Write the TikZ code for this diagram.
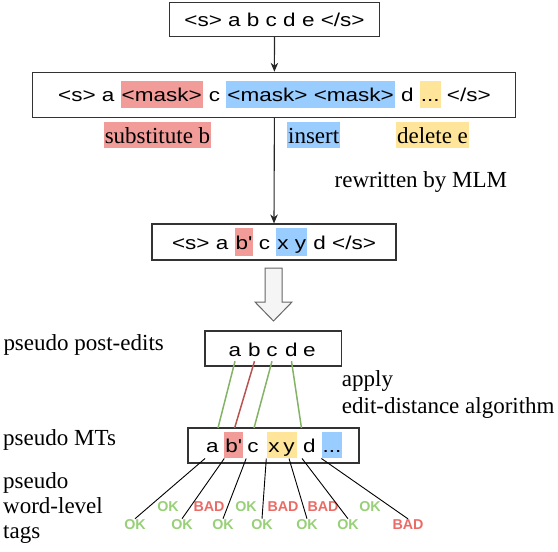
\documentclass[tikz,border=0pt]{standalone}
\usepackage{fontspec}
\setmainfont{Liberation Serif}
\newfontfamily\boxfont{Liberation Sans}[FakeStretch=1.21]
\newfontfamily\tagfont{Liberation Sans}
\usetikzlibrary{
    arrows.meta     % For arrow tip styles like Stealth
}

\definecolor{hlred}{HTML}{F19C99}
\definecolor{hlblue}{HTML}{99CCFF}
\definecolor{hlyellow}{HTML}{FFE599}
\definecolor{okgreen}{HTML}{97D077}
\definecolor{badred}{HTML}{EA6B66}
\definecolor{algngreen}{HTML}{82B366}
\definecolor{algnred}{HTML}{B85450}

% highlighted piece of a token sequence
\newcommand{\hlbox}[2]{{\setlength{\fboxsep}{1pt}\colorbox{#1}{\rule[-5.6pt]{0pt}{25.3pt}#2}}}

\begin{document}
\begin{tikzpicture}[
    x=1pt, y=-1pt,
    seqbox/.style={rectangle, draw=black!80, line width=1.1pt, inner sep=0pt, font=\boxfont\fontsize{18.6}{22}\selectfont},
    tok/.style={font=\boxfont\fontsize{18.6}{22}\selectfont, inner xsep=1pt, inner ysep=0pt, text height=13.6pt, text depth=5pt, anchor=base},
    mtok/.style={tok, text height=20.5pt, text depth=5.8pt},
    oplabel/.style={font=\fontsize{23}{26}\selectfont, inner xsep=1pt, inner ysep=0pt, text height=20.7pt, text depth=4.7pt, anchor=base},
    note/.style={font=\fontsize{23}{25}\selectfont, inner sep=0pt, align=left},
    oktag/.style={font=\tagfont\bfseries\fontsize{14.3}{16}\selectfont, text=okgreen, inner sep=1pt},
    badtag/.style={oktag, text=badred},
    arrow/.style={-{Stealth[length=9pt, width=7.5pt]}, line width=1.1pt, black!85},
    alnok/.style={algngreen, line width=1.5pt, shorten >=4pt},
    alnbad/.style={alnok, algnred},
    tagline/.style={black, line width=0.9pt},
    hollow/.style={draw=black!60, fill=black!4, line width=1pt}
]
    \useasboundingbox (0,0) rectangle (558,552);

    % Original sentence and masked sentence
    \node[seqbox, minimum width=210pt, minimum height=34pt] (src) at (274.5,19.5) {<s> a b c d e </s>};
    \node[seqbox, minimum width=483pt, minimum height=45pt] (masked) at (274.4,94.8)
        {<s> a \hlbox{hlred}{<mask>} c \hlbox{hlblue}{<mask> <mask>} d \hlbox{hlyellow}{...} </s>};
    \draw[arrow] (src.south) -- (masked.north);

    % Edit operations
    \node[oplabel, fill=hlred] (opsub) at (157.5,143) {substitute b};
    \node[oplabel, fill=hlblue] (opins) at (313.7,143) {insert};
    \node[oplabel, fill=hlyellow] (opdel) at (432.5,143) {delete e};

    % Rewritten sentence
    \node[seqbox, minimum width=244pt, minimum height=36pt] (rewritten) at (274,242)
        {<s> a \hlbox{hlred}{b\textquotesingle} c \hlbox{hlblue}{x y} d </s>};
    \draw[arrow] (masked.south) -- (rewritten.north);
    \node[note, anchor=base west] (mlm) at (334.5,187.5) {rewritten by MLM};

    % Hollow arrow
    \draw[hollow] (265,268) -- (282,268) -- (282,302) -- (292,302) -- (273.5,321) -- (255,302) -- (265,302) -- cycle;

    % Pseudo post-edits
    \node[seqbox, minimum width=136.6pt, minimum height=35pt] (pebox) at (273.3,348.5) {};
    \node[tok] (a4) at (235,356) {a};
    \node[tok] (b4) at (254.5,356) {b};
    \node[tok] (c4) at (272,356) {c};
    \node[tok] (d4) at (291.5,356) {d};
    \node[tok] (e4) at (309.5,356) {e};
    \node[note, anchor=base west] (lblpe) at (3.3,350.7) {pseudo post-edits};

    % Pseudo MTs
    \node[seqbox, minimum width=171pt, minimum height=35pt] (mtbox) at (273.5,445.5) {};
    \node[mtok] (a5) at (212.5,452.5) {a};
    \node[mtok, fill=hlred] (b5) at (233.5,452.5) {b\textquotesingle};
    \node[mtok] (c5) at (253,452.5) {c};
    \node[mtok, fill=hlyellow, minimum width=15pt] (x5) at (274,452.5) {x};
    \node[mtok, fill=hlyellow, minimum width=15pt] (y5) at (289,452.5) {y};
    \node[mtok] (d5) at (309.5,452.5) {d};
    \node[mtok, fill=hlblue] (dots5) at (332,452.5) {...};
    \node[note, anchor=base west] (lblmt) at (3,445) {pseudo MTs};

    % Edit-distance alignment
    \draw[alnok] (a4.south) -- ([xshift=4.5pt]a5.north);
    \draw[alnbad] (b4.south) -- (b5.north);
    \draw[alnok] (c4.south) -- (c5.north);
    \draw[alnok] (d4.south) -- (d5.north west);
    \node[note, anchor=base west, font=\fontsize{23}{26.6}\selectfont] (lblalgo) at (341.7,413.3) {apply\\edit-distance algorithm};

    % Word-level tags
    \node[oktag] (gapA1) at (168,507) {OK};
    \node[badtag] (gapA2) at (209,507) {BAD};
    \node[oktag] (gapA3) at (246,507) {OK};
    \node[badtag] (gapA4) at (283,507) {BAD};
    \node[badtag] (gapA5) at (323,507) {BAD};
    \node[oktag] (gapA6) at (370,507) {OK};
    \node[oktag] (wordB1) at (135,525) {OK};
    \node[oktag] (wordB2) at (182,525) {OK};
    \node[oktag] (wordB3) at (223,525) {OK};
    \node[oktag] (wordB4) at (262,525) {OK};
    \node[oktag] (wordB5) at (307,525) {OK};
    \node[oktag] (wordB6) at (348,525) {OK};
    \node[badtag] (wordB7) at (408,525) {BAD};
    \draw[tagline] (a5.south west) -- (wordB1.north);
    \draw[tagline] (b5.south west) -- (wordB2.north);
    \draw[tagline] (c5.south west) -- (wordB3.north);
    \draw[tagline] (x5.south west) -- (wordB4.north);
    \draw[tagline] (y5.south) -- (wordB5.north);
    \draw[tagline] (d5.south west) -- (wordB6.north);
    \draw[tagline] (dots5.south west) -- (wordB7.north);
    \node[note, anchor=base west] (lbltags) at (3,538) {pseudo\\word-level\\tags};

\end{tikzpicture}
\end{document}
